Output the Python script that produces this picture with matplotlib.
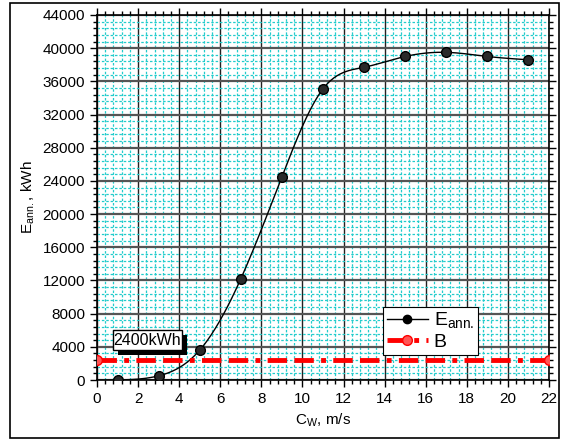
import numpy as np
import matplotlib
matplotlib.use("Agg")
import matplotlib.pyplot as plt
from matplotlib.patches import Rectangle
from matplotlib.ticker import MultipleLocator

plt.rcParams['font.family'] = ['Liberation Sans', 'DejaVu Sans']

# data
cw = [1, 3, 5, 7, 9, 11, 13, 15, 17, 19, 21]
e_ann = [0, 500, 3600, 12200, 24500, 35100, 37700, 39000, 39500, 39000, 38600]
b_x = [0, 22]
b_val = [2400, 2400]
annot_text = "2400kWh"


def natural_spline(x, y, n=400):
    x = np.asarray(x, float); y = np.asarray(y, float)
    N = len(x); h = np.diff(x)
    A = np.zeros((N, N)); r = np.zeros(N)
    A[0, 0] = A[-1, -1] = 1
    for i in range(1, N - 1):
        A[i, i - 1] = h[i - 1]; A[i, i] = 2 * (h[i - 1] + h[i]); A[i, i + 1] = h[i]
        r[i] = 3 * ((y[i + 1] - y[i]) / h[i] - (y[i] - y[i - 1]) / h[i - 1])
    c = np.linalg.solve(A, r)
    b = (np.diff(y) / h) - h * (2 * c[:-1] + c[1:]) / 3
    d = np.diff(c) / (3 * h)
    xs = np.linspace(x[0], x[-1], n)
    idx = np.clip(np.searchsorted(x, xs) - 1, 0, N - 2)
    dx = xs - x[idx]
    ys = y[idx] + b[idx] * dx + c[idx] * dx ** 2 + d[idx] * dx ** 3
    return xs, ys


fig = plt.figure(figsize=(5.68, 4.41), dpi=100)
fig.patches.append(Rectangle((10 / 568, 3 / 441), 549 / 568, 435 / 441, transform=fig.transFigure,
                             fill=False, edgecolor='black', linewidth=1.2, zorder=0))
ax = fig.add_axes([97 / 568, 61 / 441, 452 / 568, 365 / 441])

ax.set_xlim(0, 22)
ax.set_ylim(0, 44000)
ax.xaxis.set_major_locator(MultipleLocator(2))
ax.xaxis.set_minor_locator(MultipleLocator(0.4))
ax.yaxis.set_major_locator(MultipleLocator(4000))
ax.yaxis.set_minor_locator(MultipleLocator(800))
ax.grid(which='minor', color='#22cccc', linestyle=(0, (2, 1.5)), linewidth=0.9)
ax.xaxis.grid(which='major', color='#222222', linestyle='-', linewidth=1.0)
ax.yaxis.grid(which='major', color='#555555', linestyle='-', linewidth=1.6)
ax.set_axisbelow(True)
ax.tick_params(which='both', direction='out', top=True, right=True, labelsize=11)
ax.tick_params(which='major', length=5, width=1)
ax.tick_params(which='minor', length=3, width=1)
for s in ax.spines.values():
    s.set_linewidth(1.2)

xs, ys = natural_spline(cw, e_ann)
ax.plot(xs, ys, color='black', linewidth=1.0, zorder=3)
ax.plot(cw, e_ann, 'o', markerfacecolor='#2a2a2a', markeredgecolor='black', markersize=7, zorder=4)
ax.plot([], [], '-o', color='black', markersize=6, linewidth=1, label='E$_{\\mathregular{ann.}}$')

ax.plot(b_x, b_val, color='red', linewidth=3.5, linestyle=(0, (4, 1.5, 1, 1.5, 4, 1.5)),
        marker='o', markersize=7, markerfacecolor='#ff5555', clip_on=True, zorder=3, label='B')

ax.set_xlabel('C$_\\mathregular{W}$, m/s', fontsize=11)
ax.set_ylabel('E$_\\mathregular{ann.}$, kWh', fontsize=11)

# annotation box with shadow
ax.add_patch(Rectangle((1.02, 3010), 3.36, 2410, facecolor='black', edgecolor='none', zorder=5))
ax.add_patch(Rectangle((0.78, 3615), 3.36, 2410, facecolor='white', edgecolor='black',
                       linewidth=1, zorder=6))
ax.text(2.46, 4820, annot_text, fontsize=11.5, ha='center', va='center', zorder=7)

leg = ax.legend(loc='lower left', bbox_to_anchor=(0.633, 0.068), fontsize=14, frameon=True,
                fancybox=False, edgecolor='black', framealpha=1, handlelength=2.1,
                borderpad=0.2, labelspacing=0.15, handletextpad=0.3, borderaxespad=0)
leg.get_frame().set_linewidth(0.8)

fig.savefig('out.png', dpi=100)
